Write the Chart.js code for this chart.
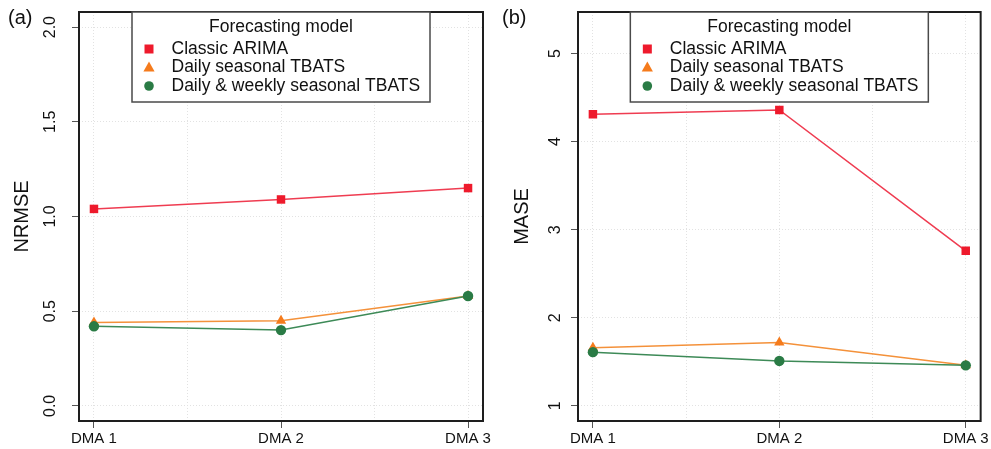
<!DOCTYPE html>
<html lang="en">
<head>
<meta charset="utf-8"/>
<title>Forecasting model errors</title>
<script src="https://cdn.jsdelivr.net/npm/chart.js"></script>
<style>
  body { margin: 0; background: #fff; }
  #wrap { position: relative; width: 991px; height: 449px; }
  #chart-a { position: absolute; left: 0; top: 0; }
  #chart-b { position: absolute; left: 495px; top: 0; }
</style>
</head>
<body>
<div id="wrap">
  <canvas id="chart-a" width="495" height="449"></canvas>
  <canvas id="chart-b" width="496" height="449"></canvas>
</div>
<script>
  const categories = ['DMA 1', 'DMA 2', 'DMA 3'];
  const modelNames = ['Classic ARIMA', 'Daily seasonal TBATS', 'Daily & weekly seasonal TBATS'];
  const legendTitle = 'Forecasting model';

  // panel (a) NRMSE
  const nrmseArima = [1.04, 1.09, 1.15];
  const nrmseDaily = [0.44, 0.45, 0.58];
  const nrmseDailyWeekly = [0.42, 0.40, 0.58];
  const nrmseTicks = [0, 0.5, 1, 1.5, 2];

  // panel (b) MASE
  const maseArima = [4.31, 4.36, 2.76];
  const maseDaily = [1.66, 1.72, 1.46];
  const maseDailyWeekly = [1.61, 1.51, 1.46];
  const maseTicks = [1, 2, 3, 4, 5];

  const xGridTicks = [1, 1.5, 2, 2.5, 3];

  const FONT = "'Liberation Sans', Arial, Helvetica, sans-serif";
  const styles = [
    { line: '#ef3c51', mark: '#ee1a2c', point: 'rect', radius: 6, order: 0 },
    { line: '#f4913a', mark: '#f57b1c', point: 'triangle', radius: 6, order: 2 },
    { line: '#3d8a57', mark: '#2a7b45', point: 'circle', radius: 5.2, order: 1 }
  ];

  function makeDatasets(series) {
    return series.map((vals, i) => ({
      label: modelNames[i],
      data: vals.map((v, j) => ({ x: j + 1, y: v })),
      borderColor: styles[i].line,
      borderWidth: 1.5,
      pointStyle: styles[i].point,
      pointRadius: styles[i].radius,
      pointBackgroundColor: styles[i].mark,
      pointBorderColor: styles[i].mark,
      pointBorderWidth: 0,
      order: styles[i].order,
      tension: 0
    }));
  }

  // box, rotated y tick labels, panel tag and legend
  const panelPlugin = {
    id: 'panel',
    afterDraw(chart, args, opts) {
      const ctx = chart.ctx;
      const area = chart.chartArea;
      const yScale = chart.scales.y;
      ctx.save();

      ctx.fillStyle = '#111';
      ctx.font = '16px ' + FONT;
      ctx.textAlign = 'center';
      ctx.textBaseline = 'middle';
      yScale.ticks.forEach(t => {
        const py = yScale.getPixelForValue(t.value);
        ctx.save();
        ctx.translate(opts.tickLabelX, py);
        ctx.rotate(-Math.PI / 2);
        ctx.fillText(opts.fmt(t.value), 0, 0);
        ctx.restore();
      });

      ctx.strokeStyle = '#1e1e1e';
      ctx.lineWidth = 2;
      ctx.strokeRect(area.left, area.top, area.right - area.left, area.bottom - area.top);

      ctx.font = '20px ' + FONT;
      ctx.textAlign = 'left';
      ctx.fillText(opts.tag, opts.tagX, 18);

      // legend
      const cx = (area.left + area.right) / 2;
      const lx = cx - 149, ly = area.top, lw = 298, lh = 90;
      ctx.fillStyle = '#fff';
      ctx.fillRect(lx, ly, lw, lh);
      ctx.strokeStyle = '#4a4a4a';
      ctx.lineWidth = 1.5;
      ctx.strokeRect(lx, ly, lw, lh);
      ctx.fillStyle = '#111';
      ctx.font = '17.5px ' + FONT;
      ctx.textAlign = 'center';
      ctx.fillText(legendTitle, cx, ly + 15);
      const rows = [37, 55.5, 74];
      chart.data.datasets.forEach((ds, i) => {
        const my = ly + rows[i];
        const mx = cx - 132;
        ctx.fillStyle = ds.pointBackgroundColor;
        ctx.beginPath();
        if (ds.pointStyle === 'rect') {
          ctx.rect(mx - 4.5, my - 4.5, 9, 9);
        } else if (ds.pointStyle === 'triangle') {
          ctx.moveTo(mx, my - 6);
          ctx.lineTo(mx + 5.6, my + 4);
          ctx.lineTo(mx - 5.6, my + 4);
          ctx.closePath();
        } else {
          ctx.arc(mx, my, 4.8, 0, Math.PI * 2);
        }
        ctx.fill();
        ctx.fillStyle = '#111';
        ctx.textAlign = 'left';
        ctx.fillText(ds.label, cx - 109.5, my);
      });
      ctx.restore();
    }
  };

  function makeChart(id, series, yTitle, yMin, yMax, yTicks, cfg) {
    return new Chart(document.getElementById(id), {
      type: 'line',
      data: { datasets: makeDatasets(series) },
      options: {
        responsive: false,
        animation: false,
        events: [],
        layout: { padding: { top: 12, right: cfg.padRight, bottom: 0, left: 0 } },
        plugins: {
          legend: { display: false },
          tooltip: { enabled: false },
          panel: { tag: cfg.tag, tagX: cfg.tagX, tickLabelX: cfg.tickLabelX, fmt: cfg.fmt }
        },
        scales: {
          x: {
            type: 'linear',
            min: 0.92,
            max: 3.08,
            afterBuildTicks: s => { s.ticks = xGridTicks.map(v => ({ value: v })); },
            afterFit: s => { s.height = 28; },
            ticks: {
              autoSkip: false,
              maxRotation: 0,
              minRotation: 0,
              padding: 2,
              color: '#111',
              font: { family: FONT, size: 15 },
              callback: v => Number.isInteger(v) ? categories[v - 1] : ''
            },
            grid: {
              color: '#e2e2e2',
              lineWidth: 1,
              tickLength: 7,
              tickWidth: 1,
              tickColor: c => (c.tick && Number.isInteger(c.tick.value)) ? '#555' : 'rgba(0,0,0,0)'
            },
            border: { display: false, dash: [1, 2] }
          },
          y: {
            type: 'linear',
            min: yMin,
            max: yMax,
            afterBuildTicks: s => { s.ticks = yTicks.map(v => ({ value: v })); },
            afterFit: s => { s.width = cfg.plotLeft; },
            ticks: { display: false },
            title: {
              display: true,
              text: yTitle,
              color: '#111',
              font: { family: FONT, size: 20 },
              padding: { top: cfg.titlePad, bottom: 0 }
            },
            grid: {
              color: '#e2e2e2',
              lineWidth: 1,
              tickLength: 7,
              tickWidth: 1,
              tickColor: '#555'
            },
            border: { display: false, dash: [1, 2] }
          }
        }
      },
      plugins: [panelPlugin]
    });
  }

  makeChart('chart-a', [nrmseArima, nrmseDaily, nrmseDailyWeekly], 'NRMSE', -0.08, 2.08, nrmseTicks,
    { tag: '(a)', tagX: 8, tickLabelX: 51, plotLeft: 79, padRight: 12, titlePad: 10, fmt: v => v.toFixed(1) });

  makeChart('chart-b', [maseArima, maseDaily, maseDailyWeekly], 'MASE', 0.828, 5.472, maseTicks,
    { tag: '(b)', tagX: 7, tickLabelX: 61, plotLeft: 83, padRight: 9, titlePad: 15, fmt: v => String(v) });
</script>
</body>
</html>
